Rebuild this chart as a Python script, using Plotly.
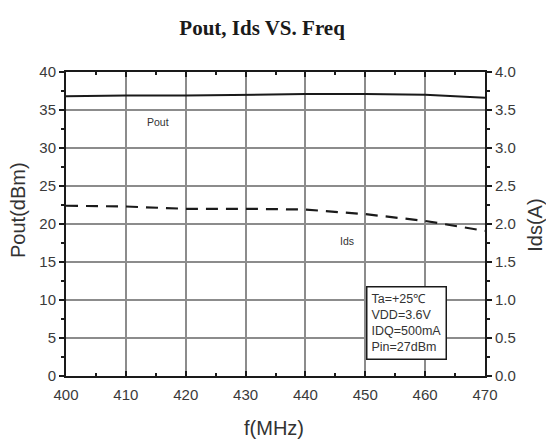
import plotly.graph_objects as go

freq = [400, 410, 420, 430, 440, 450, 460, 470]
pout = [36.8, 36.9, 36.9, 37.0, 37.1, 37.1, 37.0, 36.6]
ids = [2.24, 2.23, 2.20, 2.20, 2.19, 2.13, 2.04, 1.91]
x_ticks = [400, 410, 420, 430, 440, 450, 460, 470]
y_ticks = [0, 5, 10, 15, 20, 25, 30, 35, 40]
y2_ticks = [0.0, 0.5, 1.0, 1.5, 2.0, 2.5, 3.0, 3.5, 4.0]
cond_lines = ["Ta=+25\u2103", "VDD=3.6V", "IDQ=500mA", "Pin=27dBm"]

fig = go.Figure()
fig.add_trace(go.Scatter(x=freq, y=pout, mode="lines", name="Pout",
                         line=dict(color="#1a1a1a", width=2)))
fig.add_trace(go.Scatter(x=freq, y=ids, mode="lines", name="Ids", yaxis="y2",
                         line=dict(color="#1a1a1a", width=2.2, dash="12px,8px")))

tickfont = dict(family="Arial, Liberation Sans, sans-serif", size=15, color="#3a3a3a")
titlefont = dict(family="Arial, Liberation Sans, sans-serif", size=20, color="#333")

fig.update_layout(
    width=546, height=439,
    margin=dict(l=66, r=61, t=72, b=63, autoexpand=False),
    paper_bgcolor="white", plot_bgcolor="white",
    showlegend=False,
    title=dict(text="<b>Pout, Ids VS. Freq</b>", x=0.48, xanchor="center", y=0.936, yanchor="middle",
               font=dict(family="Liberation Serif, Times New Roman, serif", size=21, color="#1a1a1a")),
    xaxis=dict(range=[400, 470], tickvals=x_ticks, ticktext=[str(v) for v in x_ticks],
               showgrid=True, gridcolor="#8c8c8c", gridwidth=2, automargin=False,
               showline=True, linecolor="#1a1a1a", linewidth=2, mirror="ticks",
               ticks="inside", ticklen=5, tickcolor="#1a1a1a", tickwidth=2,
               minor=dict(dtick=5, ticks="inside", ticklen=3, tickcolor="#1a1a1a", tickwidth=1.5),
               tickfont=tickfont, zeroline=False, ticklabelstandoff=4),
    yaxis=dict(range=[0, 40], tickvals=y_ticks, ticktext=[str(v) for v in y_ticks],
               showgrid=True, gridcolor="#8c8c8c", gridwidth=2, automargin=False,
               showline=True, linecolor="#1a1a1a", linewidth=2,
               ticks="outside", ticklen=5, tickcolor="#1a1a1a", tickwidth=2,
               minor=dict(dtick=2.5, ticks="outside", ticklen=3, tickcolor="#1a1a1a", tickwidth=1.5),
               tickfont=tickfont, zeroline=False),
    yaxis2=dict(range=[0, 4], overlaying="y", side="right", automargin=False,
                tickvals=y2_ticks, ticktext=["%.1f" % v for v in y2_ticks],
                showgrid=False, showline=True, linecolor="#1a1a1a", linewidth=2,
                ticks="outside", ticklen=5, tickcolor="#1a1a1a", tickwidth=2,
                minor=dict(dtick=0.25, ticks="outside", ticklen=3, tickcolor="#1a1a1a", tickwidth=1.5),
                tickfont=tickfont, zeroline=False),
)

# axis titles
fig.add_annotation(xref="paper", yref="paper", x=0.496, y=-0.171, text="f(MHz)",
                   showarrow=False, font=titlefont, xanchor="center", yanchor="middle")
fig.add_annotation(xref="paper", yref="paper", x=-0.1146, y=0.546, text="Pout(dBm)",
                   showarrow=False, font=titlefont, textangle=-90, xanchor="center", yanchor="middle")
fig.add_annotation(xref="paper", yref="paper", x=1.119, y=0.497, text="Ids(A)",
                   showarrow=False, font=titlefont, textangle=-90, xanchor="center", yanchor="middle")

fig.add_annotation(x=415.4, y=33.4, text="Pout", showarrow=False,
                   font=dict(family="Arial, Liberation Sans, sans-serif", size=10.5, color="#333"))
fig.add_annotation(x=447, y=17.8, text="Ids", showarrow=False,
                   font=dict(family="Arial, Liberation Sans, sans-serif", size=10.5, color="#333"))
fig.add_annotation(x=456.9, y=7.04, text="<br>".join(cond_lines), showarrow=False,
                   align="left", xanchor="center", yanchor="middle",
                   bgcolor="white", bordercolor="#1a1a1a", borderwidth=1.5, borderpad=4,
                   font=dict(family="Arial, Liberation Sans, sans-serif", size=12.5, color="#333"))

fig.write_html("out.html")
